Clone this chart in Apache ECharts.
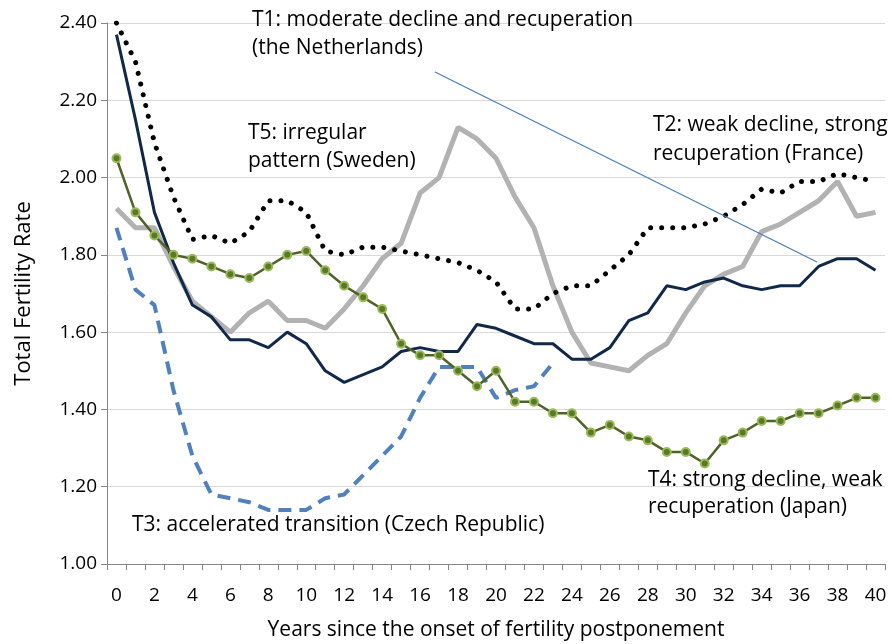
<!DOCTYPE html>
<html>
<head>
<meta charset="utf-8">
<script src="https://cdn.jsdelivr.net/npm/echarts@6/dist/echarts.min.js"></script>
<style>html,body{margin:0;padding:0;background:#fff}#c{width:892px;height:644px}</style>
</head>
<body>
<div id="c"></div>
<script>
const years = Array.from({length:41},(_,i)=>String(i));
const yTicks = [1.00,1.20,1.40,1.60,1.80,2.00,2.20,2.40];
const t1Netherlands = [2.40,2.30,2.09,1.95,1.84,1.85,1.83,1.86,1.94,1.94,1.91,1.81,1.80,1.82,1.82,1.81,1.80,1.79,1.78,1.76,1.73,1.66,1.66,1.70,1.72,1.72,1.76,1.80,1.87,1.87,1.87,1.88,1.90,1.93,1.97,1.96,1.99,1.99,2.01,2.00,1.99];
const t2France = [2.37,2.15,1.91,1.78,1.67,1.64,1.58,1.58,1.56,1.60,1.57,1.50,1.47,1.49,1.51,1.55,1.56,1.55,1.55,1.62,1.61,1.59,1.57,1.57,1.53,1.53,1.56,1.63,1.65,1.72,1.71,1.73,1.74,1.72,1.71,1.72,1.72,1.77,1.79,1.79,1.76];
const t3Czech = [1.87,1.71,1.67,1.45,1.28,1.18,1.17,1.16,1.14,1.14,1.14,1.17,1.18,1.23,1.28,1.33,1.43,1.51,1.51,1.51,1.43,1.45,1.46,1.52];
const t4Japan = [2.05,1.91,1.85,1.80,1.79,1.77,1.75,1.74,1.77,1.80,1.81,1.76,1.72,1.69,1.66,1.57,1.54,1.54,1.50,1.46,1.50,1.42,1.42,1.39,1.39,1.34,1.36,1.33,1.32,1.29,1.29,1.26,1.32,1.34,1.37,1.37,1.39,1.39,1.41,1.43,1.43];
const t5Sweden = [1.92,1.87,1.87,1.77,1.68,1.64,1.60,1.65,1.68,1.63,1.63,1.61,1.66,1.72,1.79,1.83,1.96,2.00,2.13,2.10,2.05,1.95,1.87,1.72,1.60,1.52,1.51,1.50,1.54,1.57,1.65,1.72,1.75,1.77,1.86,1.88,1.91,1.94,1.99,1.90,1.91];

const FONT = '"Open Sans", "Noto Sans", sans-serif';
const chart = echarts.init(document.getElementById('c'), null, {renderer:'canvas'});
const annot = (x,baseline,t)=>({type:'text',z:20,style:{x:x,y:baseline-7,text:t,verticalAlign:'middle',align:'left',fontFamily:FONT,fontSize:21,fill:'#000'}});
chart.setOption({
  animation:false,
  grid:{left:107,right:7,top:23,bottom:80,containLabel:false,outerBoundsMode:'none'},
  xAxis:{
    type:'category',data:years,boundaryGap:true,
    name:'Years since the onset of fertility postponement',nameLocation:'middle',nameGap:56,
    nameTextStyle:{fontFamily:FONT,fontSize:21,color:'#000'},
    axisLine:{show:true,lineStyle:{color:'#868686',width:1}},
    axisTick:{show:true,interval:0,length:6,lineStyle:{color:'#868686'}},
    axisLabel:{interval:1,fontFamily:FONT,fontSize:19,color:'#000',margin:22},
    splitLine:{show:false}
  },
  yAxis:{
    type:'value',min:1,max:2.4,interval:0.2,
    name:'Total Fertility Rate',nameLocation:'middle',nameGap:72,nameRotate:90,
    nameTextStyle:{fontFamily:FONT,fontSize:22,color:'#000'},
    axisLine:{show:true,lineStyle:{color:'#868686',width:1}},
    axisTick:{show:true,length:6,lineStyle:{color:'#868686'}},
    axisLabel:{fontFamily:FONT,fontSize:19,color:'#000',margin:10,formatter:v=>{const m=yTicks.find(t=>Math.abs(t-v)<1e-6);return (m!==undefined?m:v).toFixed(2);}},
    splitLine:{show:true,lineStyle:{color:'#d9d9d9',width:1}}
  },
  series:[
    {name:'T5',type:'line',data:t5Sweden,symbol:'none',lineStyle:{color:'#b2b2b2',width:5},z:2},
    {name:'T3',type:'line',data:t3Czech,symbol:'none',lineStyle:{color:'#4f81bd',width:4,type:[13,8]},z:3},
    {name:'T1',type:'line',data:t1Netherlands,symbol:'none',lineStyle:{color:'#000',width:5,type:[0.01,11],cap:'round'},z:4},
    {name:'T2',type:'line',data:t2France,symbol:'none',lineStyle:{color:'#10284a',width:3},z:5},
    {name:'T4',type:'line',data:t4Japan,symbol:'circle',symbolSize:8,showAllSymbol:true,
      itemStyle:{color:'#587a28',borderColor:'#9bbb59',borderWidth:2},lineStyle:{color:'#4f6228',width:2.5},z:6}
  ],
  graphic:[
    {type:'line',shape:{x1:435,y1:72,x2:817,y2:262},style:{stroke:'#4a7ebb',lineWidth:1.3},z:10},
    annot(252,27,'T1: moderate decline and recuperation'),
    annot(252,55,'(the Netherlands)'),
    annot(248,140,'T5: irregular'),
    annot(248,168,'pattern (Sweden)'),
    annot(653,132,'T2: weak decline, strong'),
    annot(653,161,'recuperation (France)'),
    annot(132,532,'T3: accelerated transition (Czech Republic)'),
    annot(648,487,'T4: strong decline, weak'),
    annot(648,514,'recuperation (Japan)')
  ]
});
</script>
</body>
</html>
